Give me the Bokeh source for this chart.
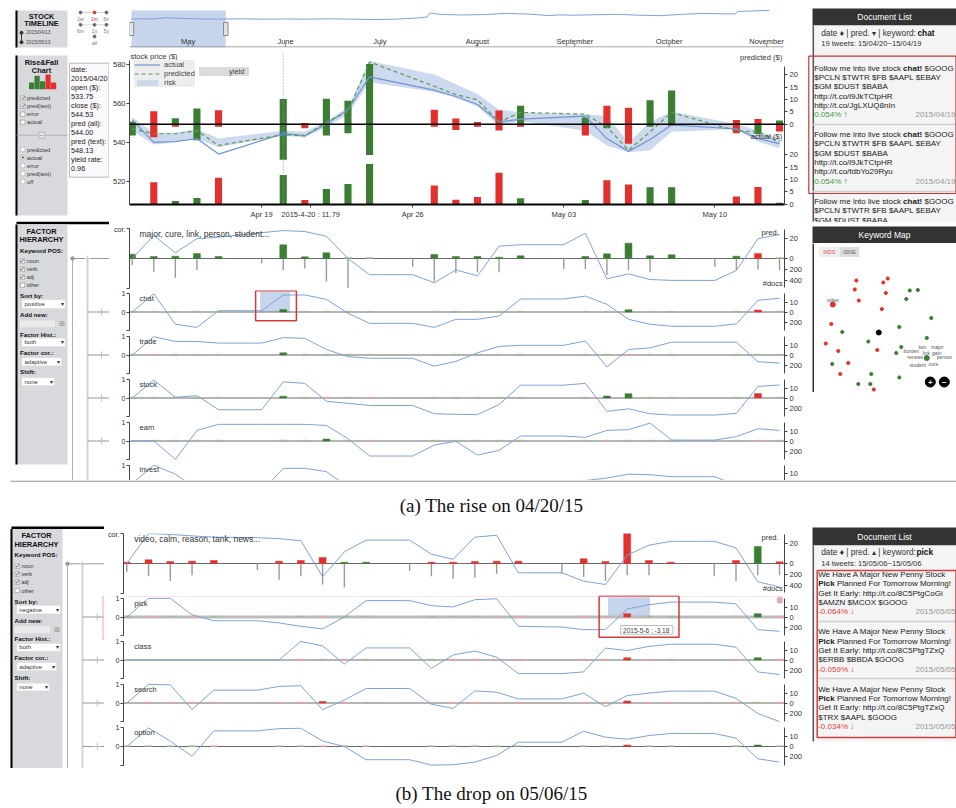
from bokeh.plotting import figure
from bokeh.models import (Range1d, LinearAxis, FixedTicker, Span, Legend, LegendItem,
                          BoxAnnotation)
from bokeh.layouts import row, column
from bokeh.core.properties import value
from bokeh.embed import file_html
from bokeh.resources import INLINE

SANS = "Liberation Sans"
SERIF = "Liberation Serif"
GREEN = "#3b7d32"
RED = "#e2312d"
LGREEN = "#96c28d"
LRED = "#f2a5a2"
BLUE = "#7ea3d6"
BAND = "#c6d5ec"
PANEL = "#d8d9dd"
DARK = "#333333"

# ======================= DATA =======================
# day index 0 = 2015-04-13 ... 30 = 2015-05-13
trade_days = [0, 1, 2, 3, 4, 7, 8, 9, 10, 11, 14, 15, 16, 17, 18, 21, 22, 23, 24, 25, 28, 29, 30]
axis_days = [6, 13, 20, 27]
axis_day_labels = ["Apr 19", "Apr 26", "May 03", "May 10"]
hover_day = 8.27
hover_text = "2015-4-20 : 11.79"

pred_all = [1.0, -5.3, 2.5, 6.4, -5.7, 10.25, -0.5, 10.4, 9.5, 24.4, -5.9, -2.4, -0.9,
            -5.6, 7.5, 2.8, -7.5, -6.7, 9.7, 13.7, -1.7, -2.1, 1.5]
pred_text = [4.5, -5.2, -1.0, 6.5, -1.0, 14.38, -1.6, 4.5, 3.6, 12.4, -1.0, -2.3, -1.0,
             -2.5, -1.0, -4.5, 1.6, -7.9, 1.0, -0.7, -3.6, 3.9, -2.9]
actual_chg = [0.0, -8.8, 1.2, 2.4, -10.7, 11.79, -1.6, 6.1, 8.1, 16.3, -7.5, -1.7, -2.8,
              -12.7, 2.3, 1.6, -9.7, -7.9, 6.8, 6.8, -3.1, -6.9, 0.5]
actual_price = [551.6, 540.0, 540.5, 542.0, 534.0, 544.53, 543.5, 549.5, 557.0, 573.8, 567.0,
                563.7, 559.6, 550.6, 552.0, 553.6, 542.0, 535.4, 541.5, 549.0, 547.0, 542.0, 539.4]
pred_price = [547.0, 544.5, 544.5, 546.0, 538.5, 544.0, 543.4, 550.5, 556.0, 581.5, 569.0,
              564.7, 562.0, 550.5, 555.5, 554.6, 548.0, 536.0, 545.5, 555.5, 546.0, 545.4, 540.3]
risk_hi = [553.0, 545.0, 545.0, 547.0, 542.0, 546.0, 545.5, 551.0, 558.0, 582.0, 575.0, 570.0,
           565.0, 557.0, 555.5, 554.6, 553.6, 540.0, 550.5, 556.0, 549.5, 546.0, 542.0]
risk_lo = [546.0, 539.0, 540.0, 542.0, 537.5, 543.5, 542.5, 548.0, 554.5, 571.0, 566.0, 563.0,
           558.5, 548.5, 551.0, 546.0, 538.4, 535.0, 536.0, 545.5, 547.0, 540.4, 537.0]
price_ticks = [520, 540, 560, 580]
pred_ticks = [0, 5, 10, 15, 20]
act_ticks = [0, 5, 10, 15, 20]

info_lines = ["date:", "2015/04/20", "open ($):", "533.75", "close ($):", "544.53",
              "pred (all):", "544.00", "pred (text):", "548.13", "yield rate:", "0.96"]

# stock timeline (days since 2015-04-13, GOOG close)
tl_day = [0, 7, 11, 14, 21, 28, 35, 43, 49, 56, 63, 70, 77, 84, 91, 94, 95, 98, 105, 112,
          119, 126, 133, 136, 140, 147, 154, 161, 168, 175, 182, 189, 192, 193, 196, 203]
tl_price = [539, 537, 565, 556, 539, 533, 540, 532, 536, 532, 540, 532, 523, 531, 560, 580, 672,
            640, 625, 635, 660, 647, 612, 628, 620, 630, 640, 622, 610, 640, 660, 650, 651, 702,
            712, 730]
month_names = ["May", "June", "July", "August", "September", "October", "November"]
month_days = [18, 49, 79, 110, 141, 171, 202]
sel_range = [0, 30]

# factor hierarchy: correlation vertices (all days except Saturdays)
cor_days = [0, 1, 2, 3, 4, 6, 7, 8, 9, 10, 11, 13, 14, 15, 16, 17, 18, 20, 21, 22, 23, 24, 25,
            27, 28, 29, 30]
docs_days = [0, 1, 2, 3, 6, 7, 8, 9, 10, 13, 14, 15, 16, 17, 20, 21, 22, 23, 24, 27, 28, 29, 30]

major_cor = [0, 0.77, 0.19, 0.66, 0.71, 0.86, 0.93, 0.9, 0.74, 0, -0.54, -0.54, -0.81, -0.38,
             -0.58, 0.41, 0.46, 0.46, 0.84, -0.68, -0.51, -0.7, -0.73, -0.73, -0.4, 0.66, 0.8]
major_pred = [4.3, 2, 2.3, 5, 2, 13.7, 1.7, 5.7, 1, 1, 4, 2, 2, 1.3, 2.7, 2, 4.7, 15.3, 2.7,
              3.7, 2.3, -5, 1]
docs_major = [120, 240, 350, 210, 90, 210, 180, 420, 530, 150, 420, 270, 250, 250, 190, 190,
              300, 210, 250, 150, 210, 200, 210]
chat_cor = [0, 1.0, -0.67, -0.84, 0.07, 0.07, 0.93, 0.93, 0.69, -0.07, -0.62, -0.62, -0.84,
            -0.4, -0.4, -0.22, 0.71, 0.71, 0.87, 0.42, -0.4, -0.67, -0.78, -0.78, -0.65, 0.64, 0.75]
chat_pred = [0.8, 0.8, 0.8, 0.8, 0.8, 2.5, 0.8, 0.8, 0.8, 0.8, 0.8, 0.8, 0.8, 0.8, 0.8, 0.8,
             0.8, 2.2, 0.8, 0.8, 0.8, -2.0, 0.8]
trade_cor = [0, 1.0, 0.74, 0.74, 0.65, 0.65, 0.95, 0.91, 0.3, -0.09, -0.18, -0.18, -0.61, -0.35,
             0.12, 0.47, 0.53, 0.53, 0.77, -0.65, 0.3, 0.39, 0.7, 0.7, 0.7, -0.37, -0.44]
trade_pred = [0.8, -0.8, 0.8, 0.8, 0.8, 2.2, 0.8, 0.8, 0.8, 0.8, 0.8, 0.8, 0.8, 0.8, 0.8, 0.8,
              0.8, -0.8, 0.8, 0.8, 0.8, 0.8, 0.8]
stock_cor = [0, 0.98, 0.04, 0.13, -0.64, -0.64, 0.88, 0.8, -0.18, -0.29, -0.41, -0.41, -0.86,
             -0.89, -0.91, -0.36, 0.7, 0.7, 0.8, -0.73, -0.59, -0.86, -0.93, -0.93, -0.84, 0.63, 0.71]
stock_pred = [0.8, 0.8, 0.8, 0.8, 0.8, 1.8, 0.8, -0.8, 0.8, -0.8, 0.8, 0.8, 0.8, 0.8, 0.8, 0.8,
              2.0, 4.3, 0.8, 0.8, 0.8, -4.5, 0.8]
earn_cor = [0, 0, -1.0, 0.58, 0.91, 0.91, 0.91, 0.91, 0.85, 0.13, -0.82, -0.82, -0.22, -0.02,
            -0.77, -0.51, 0.27, 0.27, 0.2, 0.58, 0.62, 0.98, 0.05, 0.05, 0.24, 0.67, 0.58]
earn_pred = [0.0, 0.8, 0.8, 0.8, 0.8, 1.0, 0.8, 2.0, 0.8, -0.8, 0.8, 0.8, 0.8, 0.8, 0.8, 0.8,
             -0.8, 0.8, 0.8, 0.8, 0.8, -0.8, 0.8]
invest_cor = [0, 1.0, 0.51, -0.3, -0.45, -0.45, 0.83, 0.83, 0.65, -0.2, -0.5, -0.5, -0.6, -0.3,
              -0.5, -0.4, -0.1, -0.1, 0.16, 0.3, 0.51, 0.48, 0.37, 0.37, -0.1, -0.6, -0.6]
invest_pred = [0.8, 0.8, 0.8, 0.8, 0.8, 0.8, 0.8, 0.8, 0.8, 0.8, 0.8, 0.8, 0.8, 0.8, 0.8, 0.8,
               0.8, 0.8, 0.8, 0.8, 0.8, 0.8, 0.8]

video_cor = [0, 1.0, 0.97, 0.92, 0.88, 0.86, 0.83, 0.76, -0.44, 0.39, 0.78, 0.78, 0.31, 0.14,
             0.88, 0.94, -0.31, -0.31, -0.59, -0.7, 0.28, 0.61, 0.74, 0.74, 0.52, -0.61, -0.78]
video_pred = [-1.3, -3.7, -2.0, -2.3, -3.0, -2.3, -3.0, -6.0, 1.3, 1.3, -1.3, -1.3, -2.0, -2.3,
              -2.3, -4.7, -2.0, -30.0, -3.0, -1.3, -3.0, 17.0, -1.7]
docs_video = [150, 230, 320, 215, 120, 295, 230, 380, 430, 135, 230, 275, 260, 185, 185, 245,
              320, 215, 215, 230, 320, 215, 215]
pick_cor = [0, 1.0, 1.0, 0.12, -0.2, -0.2, -0.32, -0.5, -0.64, 0, 0.88, 0.88, 0.61, 0.54, 0.93,
            0.98, -0.5, -0.54, -0.68, -0.68, 0.43, 0.66, 0.8, 0.8, 0.71, -0.68, -0.77]
pick_pred = [0.8, -0.8, 0.8, -0.8, 0.8, 0.0, 0.8, -0.8, 0.8, 0.8, 0.8, 0.8, 0.8, -0.8, -0.8,
             -0.8, -0.8, -3.18, 0.8, 0.8, -0.8, 3.3, -0.8]
class_cor = [0, 0, 0, 0, 0, 0, 0, 1.0, 0.76, -0.22, 0.65, 0.65, -0.45, 0.27, 0.48, 0.15, -0.73,
             -0.73, -0.64, 0.64, 0.51, 0.73, 0.85, 0.85, 0.69, -0.64, -0.78]
class_pred = [0, 0, 0, 0, 0, 0, -0.8, 0.8, -0.8, 0.8, 0.8, -0.8, -0.8, -0.8, -0.8, -0.8, -0.8,
              -2.3, -0.8, 0.8, -0.8, 2.3, -0.8]
search_cor = [0, 1.0, 0.98, -0.35, 0.69, 0.69, 0.89, 0.93, -0.36, 0.16, 0.78, 0.78, -0.07,
              -0.29, 0.65, 0.58, 0.22, 0.22, 0.53, -0.2, 0.4, 0.53, 0.64, 0.64, 0.25, -0.56, -1.0]
search_pred = [0, -0.8, -0.8, -0.8, -0.8, -0.8, -0.8, -1.5, -0.8, 0.8, -0.8, -0.8, -0.8, -0.8,
               -0.8, -0.8, -0.8, -2.0, -0.8, -0.8, -0.8, 0.8, -0.8]
option_cor = [0, 1.0, 0.29, -0.52, 0.84, 0.84, 0.96, 0.98, 0.29, 0, -0.71, -0.71, -1.0, -0.98,
              -0.84, -0.48, 0.23, 0.23, 0.82, 0.5, 0.39, 0.59, 0.7, 0.7, 0.45, -0.66, -0.84]
option_pred = [0.8, 0.8, 0.8, 0.8, -0.8, 0.8, 0.8, -0.8, 0.8, -0.8, 0.8, 0.8, 0.8, 0.8, 0.8,
               0.8, 0.8, -1.5, 0.8, 0.8, 0.8, 1.5, 0.8]

# document lists
docA_keyword = "chat"
docA_count = "19 tweets: 15/04/20~15/04/19"
docA_tweets = [
    ["Follow me into live stock *chat!* $GOOG", "$PCLN $TWTR $FB $AAPL $EBAY", "$GM $DUST $BABA",
     "http://t.co/l9JkTCtpHR", "http://t.co/JgLXUQ8nIn"],
    ["Follow me into live stock *chat!* $GOOG", "$PCLN $TWTR $FB $AAPL $EBAY", "$GM $DUST $BABA",
     "http://t.co/l9JkTCtpHR", "http://t.co/fdbYo29Ryu"],
    ["Follow me into live stock *chat!* $GOOG", "$PCLN $TWTR $FB $AAPL $EBAY", "$GM $DUST $BABA"],
]
docA_yield = ["0.054% ↑", "0.054% ↑"]
docA_dates = ["2015/04/19", "2015/04/19"]
docB_keyword = "pick"
docB_count = "14 tweets: 15/05/06~15/05/06"
docB_tweets = [
    ["We Have A Major New Penny Stock", "*Pick* Planned For Tomorrow Morning!",
     "Get It Early: http://t.co/8C5PtgCoGi", "$AMZN $MCOX $GOOG"],
    ["We Have A Major New Penny Stock", "*Pick* Planned For Tomorrow Morning!",
     "Get It Early: http://t.co/8C5PtgTZxQ", "$ERBB $BBDA $GOOG"],
    ["We Have A Major New Penny Stock", "*Pick* Planned For Tomorrow Morning!",
     "Get It Early: http://t.co/8C5PtgTZxQ", "$TRX $AAPL $GOOG"],
]
docB_yield = ["-0.064% ↓", "-0.059% ↓", "-0.034% ↓"]
docB_dates = ["2015/05/05", "2015/05/05", "2015/05/05"]

# keyword map (MDS coordinates)
kw_red_x = [-0.45, 0.09, 0.18, -0.48, 0.14, -0.4, -0.95, 0.06, -1.06, -0.81, -0.03, -0.61, -0.77, -0.1]
kw_red_y = [1.04, 1.0, 1.08, 0.86, 0.79, 0.64, 0.17, 0.47, -0.22, -0.37, -0.35, -0.61, -0.83, -1.14]
kw_green_x = [0.62, 0.78, 0.55, 1.05, 0.41, -0.73, -0.21, 0.96, 0.45, 0.35, -0.93, -0.15, 0.41, -0.41, -0.17]
kw_green_y = [0.84, 0.85, 0.67, 0.29, 0.11, 0.01, -0.18, -0.11, -0.29, -0.41, -0.63, -0.83, -0.9, -1.03, -1.03]
kw_focus_x = [-0.92, 0.96]
kw_focus_y = [0.56, -0.51]
kw_focus_color = [RED, GREEN]
kw_labels = ["video", "lion", "major", "burden", "link", "gain", "renews", "person", "student", "cure"]
kw_label_x = [-0.92, 0.87, 1.17, 0.65, 0.95, 1.16, 0.73, 1.31, 0.78, 1.09]
kw_label_y = [0.66, -0.28, -0.28, -0.37, -0.41, -0.41, -0.49, -0.49, -0.64, -0.63]

# ======================= HELPERS =======================
AW = {' ': 278, '!': 278, '$': 556, '%': 889, '(': 333, ')': 333, '.': 278, '/': 278, ':': 278,
      '~': 584, '-': 333, '|': 260, 'A': 667, 'B': 667, 'C': 722, 'D': 722, 'E': 667, 'F': 611,
      'G': 778, 'H': 722, 'I': 278, 'J': 500, 'K': 667, 'L': 556, 'M': 833, 'N': 722, 'O': 778,
      'P': 667, 'Q': 778, 'R': 722, 'S': 667, 'T': 611, 'U': 722, 'V': 667, 'W': 944, 'X': 667,
      'Y': 667, 'Z': 611, 'a': 556, 'b': 556, 'c': 500, 'd': 556, 'e': 556, 'f': 278, 'g': 556,
      'h': 556, 'i': 222, 'j': 222, 'k': 500, 'l': 222, 'm': 833, 'n': 556, 'o': 556, 'p': 556,
      'q': 556, 'r': 333, 's': 500, 't': 278, 'u': 556, 'v': 500, 'w': 722, 'x': 500, 'y': 500,
      'z': 500}
AWB = {'!': 333, 'c': 556, 'h': 611, 't': 333, 'i': 278, 'k': 556, 'p': 611, 's': 556}


def tw(s, size, bold=False):
    tot = 0
    for ch in s:
        w = AWB.get(ch) if bold else None
        tot += w if w else AW.get(ch, 556)
    return tot / 1000.0 * size


def base_fig(w, h, xr, yr, left=0, right=0, top=0, bottom=0):
    p = figure(width=w, height=h, x_range=xr, y_range=yr, x_axis_type=None, y_axis_type=None,
               toolbar_location=None, output_backend="svg", title=None,
               min_border_left=left, min_border_right=right, min_border_top=top,
               min_border_bottom=bottom)
    p.outline_line_color = None
    return p


def ui_fig(x0, x1, y0, y1):
    return base_fig(int(round(x1 - x0)), int(round(y1 - y0)), Range1d(x0, x1), Range1d(y1, y0))


def txt(p, x, y, s, size=7.5, color="#222222", align="left", bold=False,
        baseline="middle", font=SANS, alpha=1.0, rname="default"):
    p.text(x=[x], y=[y], text=[s], text_font=value(font), text_font_size=f"{size}px",
           text_color=color, text_align=align, text_baseline=baseline,
           text_font_style="bold" if bold else "normal", text_alpha=alpha, y_range_name=rname)


def rich(p, x, y, s, size=8.0, color="#222222"):
    cx = x
    for i, part in enumerate(s.split("*")):
        if part == "":
            continue
        bold = (i % 2 == 1)
        lead = len(part) - len(part.lstrip(" "))
        trail = len(part) - len(part.rstrip(" "))
        core = part.strip(" ")
        cx += tw(" " * lead, size, bold)
        if core:
            txt(p, cx, y, core, size=size, color=color, bold=bold)
        cx += tw(core, size, bold) + tw(" " * trail, size, bold)


def box(p, x0, x1, y0, y1, fill, line=None, lw=1.0):
    p.quad(left=[x0], right=[x1], top=[y0], bottom=[y1], fill_color=fill, line_color=line,
           line_width=lw)


def panel(p, x0, x1, y0, y1):
    box(p, x0, x1, y0, y1, PANEL)
    p.segment(x0=[x0 + 1], y0=[y0], x1=[x0 + 1], y1=[y1], line_color="black", line_width=2)


def checkbox(p, x, y, label, checked, size=5.6):
    box(p, x - 2.2, x + 2.2, y - 2.2, y + 2.2, "white", "#888888", 0.6)
    if checked:
        txt(p, x + 0.3, y - 0.3, "✓", 5.5, "#222222", "center")
    txt(p, x + 4.3, y, label, size, "#333333")


def radio(p, x, y, label, on, size=5.6):
    p.scatter([x], [y], size=5, fill_color="white", line_color="#999999", line_width=0.6)
    if on:
        p.scatter([x], [y], size=2.2, fill_color="#333333", line_color=None)
    txt(p, x + 4.3, y, label, size, "#333333")


def dropdown(p, x0, x1, y0, y1, label):
    box(p, x0, x1, y0, y1, "white", "#dddddd", 0.5)
    txt(p, x0 + 2.5, (y0 + y1) / 2, label, 6, "#333333")
    txt(p, x1 - 3.2, (y0 + y1) / 2, "▾", 6, "#333333", "center")


def style_axis(ax, size="7.5px", standoff=2):
    ax.axis_line_color = "#444444"
    ax.major_tick_line_color = "#444444"
    ax.minor_tick_line_color = None
    ax.major_tick_out = 3
    ax.major_tick_in = 0
    ax.major_label_text_font = SANS
    ax.major_label_text_font_size = size
    ax.major_label_text_color = "#333333"
    ax.major_label_standoff = standoff


XA = (-0.125, 30.23)
XB = (-0.151, 30.23)


def factor_fig(w, h, xr, ft, fb, z, ppu, ppd, cor_vals, bar_vals, label,
               top_row=False, docs_vals=None):
    H = h - ft - fb
    ranges = {"pred": Range1d(-(H - z), z)}
    if docs_vals is not None:
        ranges["docs"] = Range1d((H - z) / ppd, -z / ppd)
    p = base_fig(w, h, Range1d(*xr), Range1d(-(H - z) / ppu, z / ppu), 18, 20, ft, fb)
    p.extra_y_ranges = ranges
    p.add_layout(Span(location=0, dimension="width", line_color="#6a6a6a", line_width=1,
                      level="underlay"))
    if docs_vals is not None:
        p.segment(x0=docs_days, y0=[0] * len(docs_days), x1=docs_days, y1=docs_vals,
                  y_range_name="docs", line_color="#9a9a9a", line_width=1.4)
    xs, hs, cs = [], [], []
    for d, v in zip(trade_days, bar_vals):
        if v == 0:
            continue
        xs.append(d)
        hs.append(abs(v))
        if abs(v) >= 1.2:
            cs.append(GREEN if v > 0 else RED)
        else:
            cs.append(LGREEN if v > 0 else LRED)
    p.vbar(x=xs, bottom=0, top=hs, width=0.32, fill_color=cs, line_color=cs, line_width=0.5,
           y_range_name="pred")
    p.line(cor_days, cor_vals, line_color=BLUE, line_width=1)
    if top_row:
        la = LinearAxis(ticker=FixedTicker(ticks=[-1, 1]), bounds=(-1, 1),
                        major_label_overrides={-1: "", 1: "cor."})
    else:
        la = LinearAxis(ticker=FixedTicker(ticks=[-1, 0, 1]), bounds=(-1, 1),
                        major_label_overrides={-1: ""})
    style_axis(la, "7.2px", 1)
    p.add_layout(la, "left")
    if top_row:
        d2, d4 = round(-200 * ppd, 3), round(-400 * ppd, 3)
        ra = LinearAxis(y_range_name="pred", ticker=FixedTicker(ticks=[20, 0, d2, d4]),
                        bounds=(-(z - 1), z - 1),
                        major_label_overrides={d2: "200", d4: "400"})
    else:
        d2 = round(-200 * ppd, 3)
        ra = LinearAxis(y_range_name="pred", ticker=FixedTicker(ticks=[10, 0, d2]),
                        bounds=(-ppu, ppu), major_label_overrides={d2: "200"})
    style_axis(ra)
    p.add_layout(ra, "right")
    if top_row:
        txt(p, 0.34, 0.83, label, 8.5, "#333333")
        txt(p, xr[1] - 0.27, 0.88, "pred.", 7.5, "#333333", "right")
        txt(p, xr[1] - 0.08, -0.83, "#docs", 7.5, "#333333", "right")
    else:
        txt(p, 0.34, 0.74, label, 7.5, "#333333")
    return p


# ======================= LEFT PANEL A =======================
LA = ui_fig(0, 109, 0, 480)
panel(LA, 15, 67, 10, 47)
txt(LA, 41, 15.5, "STOCK", 7.4, "#111111", "center", True)
txt(LA, 41, 23.2, "TIMELINE", 7.4, "#111111", "center", True)
LA.segment(x0=[21], y0=[32.3], x1=[21], y1=[41.7], line_color="#333333", line_width=1)
LA.scatter([21, 21], [32.3, 41.7], size=3, color="#333333")
txt(LA, 25.5, 32.3, "2015/04/13", 4.9, "#444444")
txt(LA, 25.5, 41.7, "2015/05/13", 4.9, "#444444")
LA.segment(x0=[80, 80], y0=[12, 24.3], x1=[106, 106], y1=[12, 24.3], line_color="#999999",
           line_width=0.8, line_dash="1 1")
LA.scatter([80, 94, 106, 80, 94, 106, 94], [12, 12, 12, 24.3, 24.3, 24.3, 36], size=2.8,
           color=["#666666", RED, "#666666", "#666666", "#666666", "#666666", "#666666"])
for bx, by, bt in [(80, 18, "1w"), (94, 18, "1m"), (106, 18, "3m"), (80, 30.2, "6m"),
                   (94, 30.2, "1y"), (106, 30.2, "5y"), (94, 42, "all")]:
    txt(LA, bx, by, bt, 5, RED if bt == "1m" else "#777777", "center")

panel(LA, 15, 67, 55, 215)
txt(LA, 41, 61.5, "Rise&Fall", 7.4, "#111111", "center", True)
txt(LA, 41, 69.5, "Chart", 7.4, "#111111", "center", True)
LA.quad(left=[28.5, 34, 39.5, 45, 50.5], right=[33.7, 39.2, 44.7, 50.2, 55.7],
        top=[82, 75.3, 80.7, 74, 82], bottom=[88.7] * 5,
        fill_color=[GREEN, GREEN, GREEN, RED, RED], line_color=None)
for yy, t, c in [(97.7, "predicted", True), (105.8, "pred(text)", True), (113.7, "error", False),
                 (121.7, "actual", False)]:
    checkbox(LA, 22.3, yy, t, c)
LA.segment(x0=[16], y0=[134.7], x1=[67], y1=[134.7], line_color="#aaaaaa", line_width=0.8)
box(LA, 38.3, 44.3, 131.7, 137.7, "#e8e8e8", "#999999", 0.6)
txt(LA, 41.3, 134.6, "−", 6, "#555555", "center")
for yy, t, on in [(149, "predicted", False), (157, "actual", True), (165, "error", False),
                  (173, "pred(text)", False), (181, "off", False)]:
    radio(LA, 22.3, yy, t, on)
box(LA, 69, 108.5, 62.7, 176.7, "#fbf8fb", "#aaaaaa", 0.8)
for i, s in enumerate(info_lines):
    txt(LA, 70.5, 68.5 + 9.05 * i, s, 7.3, "#222222")

box(LA, 16, 109, 221.2, 223.8, "black")
panel(LA, 15, 67, 224, 464)
txt(LA, 41, 230.7, "FACTOR", 7.4, "#111111", "center", True)
txt(LA, 41, 239.2, "HIERARCHY", 7.4, "#111111", "center", True)
txt(LA, 19.5, 249.7, "Keyword POS:", 6.2, "#111111", bold=True)
for yy, t, c in [(260.7, "noun", True), (268.7, "verb", True), (276.7, "adj", True),
                 (284.7, "other", False)]:
    checkbox(LA, 22, yy, t, c, 5.4)
txt(LA, 19.5, 294.7, "Sort by:", 6.2, "#111111", bold=True)
dropdown(LA, 21.5, 64.7, 299.3, 308, "positive")
txt(LA, 19.5, 314.3, "Add new:", 6.2, "#111111", bold=True)
box(LA, 19, 55, 319.3, 327.3, "#e9e9ec", "#cccccc", 0.5)
txt(LA, 61, 323.3, "⊞", 7, "#888888", "center")
txt(LA, 19.5, 333.7, "Factor Hist.:", 6.2, "#111111", bold=True)
dropdown(LA, 21.5, 64.7, 337.7, 346, "both")
txt(LA, 19.5, 351.7, "Factor cor.:", 6.2, "#111111", bold=True)
dropdown(LA, 21.5, 61, 357.3, 365.3, "adaptive")
txt(LA, 19.5, 371.3, "Shift:", 6.2, "#111111", bold=True)
dropdown(LA, 21.5, 53.7, 377.3, 385, "none")
LA.segment(x0=[72, 87, 72], y0=[258, 258, 258], x1=[72, 87, 109], y1=[480, 480, 258],
           line_color=["#b0b0b0", "#d4d4d4", "#999999"], line_width=[1, 2, 1])
LA.scatter([72], [258], size=3.5, color="#999999")
LA.scatter([87], [258], marker="cross", size=6, line_color="#cccccc")
for yy in [311.5, 354.5, 397.5, 440.5]:
    LA.segment(x0=[87], y0=[yy], x1=[109], y1=[yy], line_color="#999999", line_width=1)
    LA.scatter([101], [yy], marker="cross", size=7, line_color="#c0c0c0", line_width=1)

# ======================= TIMELINE =======================
TL = base_fig(696, 50, Range1d(-0.62, 207.7), Range1d(-103.5, 771), 18, 5, 8, 3)
TL.quad(left=[sel_range[0]], right=[sel_range[1]], bottom=[-103.5], top=[726],
        fill_color=BAND, line_color=None)
TL.line(tl_day, tl_price, line_color=BLUE, line_width=1)
TL.add_layout(Span(location=-92, dimension="width", line_color="#888888", line_width=1))
TL.segment(x0=month_days, y0=[-92] * len(month_days), x1=month_days,
           y1=[-14] * len(month_days), line_color="#888888")
TL.text(x=month_days, y=[31] * len(month_days), text=month_names, text_font=value(SANS),
        text_font_size="7.5px", text_color="#333333", text_align="center",
        text_baseline="middle")
TL.rect(x=sel_range, y=[311, 311], width=4.5, height=13, width_units="screen",
        height_units="screen", fill_color="#e4e4e4", line_color="#888888")

# ======================= RISE & FALL CHART =======================
PR = (-32.5, 29.1)
AR = (-0.2, 61.6)
MAIN = base_fig(696, 171, Range1d(*XA), Range1d(508.0, 586.4), 18, 20, 2, 14)
MAIN.extra_y_ranges = {"pred": Range1d(*PR), "act": Range1d(*AR)}
r_band = MAIN.varea(x=trade_days, y1=risk_lo, y2=risk_hi, fill_color=BAND, fill_alpha=0.9)
up_c = [GREEN if v >= 0 else RED for v in pred_all]
dn_c = [GREEN if v >= 0 else RED for v in pred_text]
ac_c = [GREEN if v >= 0 else RED for v in actual_chg]
MAIN.vbar(x=trade_days, bottom=0, top=[abs(v) for v in pred_all], width=0.33,
          fill_color=up_c, line_color=None, y_range_name="pred")
MAIN.vbar(x=trade_days, top=0, bottom=[-abs(v) for v in pred_text], width=0.33,
          fill_color=dn_c, line_color=None, y_range_name="pred")
MAIN.vbar(x=trade_days, bottom=0, top=[abs(v) for v in actual_chg], width=0.33,
          fill_color=ac_c, line_color=None, y_range_name="act")
MAIN.add_layout(Span(location=0, dimension="width", line_color="black", line_width=1.6,
                     y_range_name="pred"))
MAIN.add_layout(Span(location=7, dimension="height", line_color="#999999", line_width=1,
                     line_dash="1 2"))
r_act = MAIN.line(trade_days, actual_price, line_color="#6f95cf", line_width=1.2)
r_pred = MAIN.line(trade_days, pred_price, line_color="#5c9a52", line_width=1.2,
                   line_dash="4 3")
MAIN.scatter([trade_days[5]], [actual_price[5]], size=4, color="#4f7cc2")
r_yield = MAIN.line(x=[], y=[], line_color="#9b3a3a", line_width=1.2)
r_yield.visible = False

ax_l = LinearAxis(ticker=FixedTicker(ticks=price_ticks), bounds=(508.0, 582.3))
style_axis(ax_l, "7.5px", 1)
MAIN.add_layout(ax_l, "left")
x_over = dict(zip(axis_days, axis_day_labels))
x_over[hover_day] = hover_text
ax_b = LinearAxis(ticker=FixedTicker(ticks=axis_days + [hover_day]),
                  major_label_overrides=x_over)
style_axis(ax_b)
ax_b.axis_line_color = "black"
ax_b.axis_line_width = 2
MAIN.add_layout(ax_b, "below")


def act_to_pred(a):
    f = (a - AR[0]) / (AR[1] - AR[0])
    return round(PR[0] + f * (PR[1] - PR[0]), 3)


r_ticks = list(pred_ticks) + [act_to_pred(a) for a in act_ticks]
r_over = {t: str(t) for t in pred_ticks}
for a in act_ticks:
    r_over[act_to_pred(a)] = str(a)
ax_r = LinearAxis(y_range_name="pred", ticker=FixedTicker(ticks=r_ticks),
                  major_label_overrides=r_over, bounds=(act_to_pred(0), 23.5))
style_axis(ax_r)
MAIN.add_layout(ax_r, "right")

txt(MAIN, -0.08, 584.3, "stock price ($)", 7.5, "#333333")
txt(MAIN, 30.12, 27.2, "predicted ($)", 7.5, "#333333", "right", rname="pred")
txt(MAIN, 30.12, 27.3, "actual ($)", 7.5, "#333333", "right", rname="act")

leg1 = Legend(items=[LegendItem(label="actual", renderers=[r_act]),
                     LegendItem(label="predicted", renderers=[r_pred]),
                     LegendItem(label="risk", renderers=[r_band])],
              location=(5, 117), glyph_width=26, glyph_height=7, label_height=7,
              label_text_font=SANS, label_text_font_size="7.5px", label_text_line_height=0.9,
              spacing=0, padding=2, margin=0, label_standoff=4,
              background_fill_color="#ececec", background_fill_alpha=0.95,
              border_line_color=None)
leg2 = Legend(items=[LegendItem(label="yield", renderers=[r_yield])],
              location=(70, 128), glyph_width=26, glyph_height=7, label_height=7,
              label_text_font=SANS, label_text_font_size="7.5px", label_text_line_height=0.9,
              spacing=0, padding=2, margin=0, label_standoff=4,
              background_fill_color="#d9d9d9", background_fill_alpha=0.95,
              border_line_color=None)
MAIN.add_layout(leg1)
MAIN.add_layout(leg2)

SA = ui_fig(109, 805, 221, 224)
box(SA, 109, 803, 221.2, 223.8, "black")

# ======================= FACTOR ROWS A =======================
FA_top = factor_fig(696, 66, XA, 4, 2, 30, 30, 0.055, major_cor, major_pred,
                    "major, cure, link, person, student...", True, docs_major)
FA_chat = factor_fig(696, 43, XA, 0, 0, 21.5, 18.3, 0.05, chat_cor, chat_pred, "chat")
FA_trade = factor_fig(696, 43, XA, 0, 0, 21.5, 18.3, 0.05, trade_cor, trade_pred, "trade")
FA_stock = factor_fig(696, 43, XA, 0, 0, 21.5, 18.3, 0.05, stock_cor, stock_pred, "stock")
FA_earn = factor_fig(696, 43, XA, 0, 0, 21.5, 18.3, 0.05, earn_cor, earn_pred, "earn")
FA_invest = factor_fig(696, 18, XA, 0, 0, 21, 18.3, 0.05, invest_cor, invest_pred, "invest")
FA_chat.quad(left=[5.93], right=[7.32], bottom=[0], top=[1.1], fill_color=BAND,
             line_color=None, level="underlay")
FA_chat.quad(left=[5.72], right=[7.61], bottom=[-0.48], top=[1.16], fill_color=None,
             line_color="#d9383a", line_width=1.5)

# ======================= RIGHT COLUMN A =======================
RA = ui_fig(805, 956, 0, 243)
box(RA, 812, 956, 8, 25, DARK)
txt(RA, 884, 16.8, "Document List", 8.5, "white", "center")
box(RA, 812, 956, 25, 221, "#f4f4f4")
RA.segment(x0=[812.8], y0=[25], x1=[812.8], y1=[221], line_color="#555555", line_width=1.5)
txt(RA, 820.7, 32, "date ♦ | pred. ▾ | keyword:", 8.3, "#333333")
txt(RA, 917, 32, docA_keyword, 8.3, "#111111", bold=True)
txt(RA, 820.7, 43.3, docA_count, 7.6, "#333333")
for ti, (y0, lines) in enumerate(zip([67.7, 134.0, 201.0], docA_tweets)):
    for li, ln in enumerate(lines):
        rich(RA, 813.7, y0 + 9.3 * li, ln, 8.0, "#222222")
    if ti < len(docA_yield):
        txt(RA, 813.7, y0 + 46.6, docA_yield[ti], 8.0, "#3f9a3f")
        txt(RA, 955, y0 + 46.6, docA_dates[ti], 8.0, "#999999", "right")
RA.segment(x0=[812, 812], y0=[124, 191], x1=[956, 956], y1=[124, 191], line_color="#d0d0d0",
           line_width=1.5)
box(RA, 808.3, 955.5, 55.7, 193, None, "#cc3333", 1.2)
box(RA, 805, 956, 221.5, 226, "white")
box(RA, 812, 956, 226, 243, DARK)
txt(RA, 884, 234.6, "Keyword Map", 8.5, "white", "center")

KW = base_fig(151, 149, Range1d(-1.466, 1.554), Range1d(-1.2, 1.78), 0, 0, 0, 0)
KW.quad(left=[-1.326], right=[-1.296], bottom=[-1.2], top=[1.78], fill_color=DARK,
        line_color=None)
KW.quad(left=[-1.2, -0.78], right=[-0.78, -0.39], bottom=[1.51, 1.51], top=[1.71, 1.71],
        fill_color=["#eeeeee", "#dddddd"], line_color=None)
txt(KW, -0.99, 1.61, "MDS", 5.5, "#e05555", "center")
txt(KW, -0.585, 1.61, "tSNE", 5.5, "#666666", "center")
KW.scatter(kw_red_x, kw_red_y, size=3.2, color=RED)
KW.scatter(kw_green_x, kw_green_y, size=3.2, color=GREEN)
KW.scatter(kw_focus_x, kw_focus_y, size=5, color=kw_focus_color)
KW.scatter([0], [0], size=5, color="black")
KW.text(x=kw_label_x, y=kw_label_y, text=kw_labels, text_font=value(SANS),
        text_font_size="5px", text_color="#555555", text_align="center",
        text_baseline="middle")
KW.scatter([1.03, 1.31], [-0.99, -0.99], size=10, color="black")
txt(KW, 1.03, -0.99, "+", 8, "white", "center", True)
txt(KW, 1.31, -0.99, "−", 8, "white", "center", True)
RF = ui_fig(805, 956, 392, 480)

# ======================= CAPTION A =======================
CA = ui_fig(0, 956, 480, 520)
CA.segment(x0=[10], y0=[480.6], x1=[956], y1=[480.6], line_color="#777777", line_width=1)
txt(CA, 491, 505, "(a) The rise on 04/20/15", 19, "#111111", "center", font=SERIF)

# ======================= LEFT PANEL B =======================
LB = ui_fig(0, 104, 520, 768)
box(LB, 11, 104, 526, 528.5, "black")
panel(LB, 10, 62, 528.5, 768)
txt(LB, 36, 535, "FACTOR", 7.4, "#111111", "center", True)
txt(LB, 36, 544, "HIERARCHY", 7.4, "#111111", "center", True)
txt(LB, 14, 554.3, "Keyword POS:", 6.2, "#111111", bold=True)
for yy, t, c in [(565.7, "noun", True), (573.7, "verb", True), (581.7, "adj", True),
                 (590, "other", False)]:
    checkbox(LB, 16.7, yy, t, c, 5.4)
txt(LB, 14, 600.7, "Sort by:", 6.2, "#111111", bold=True)
dropdown(LB, 16.3, 59.7, 605, 613.3, "negative")
txt(LB, 14, 620.3, "Add new:", 6.2, "#111111", bold=True)
box(LB, 13.3, 50, 625, 633.3, "#e9e9ec", "#cccccc", 0.5)
txt(LB, 56, 629, "⊞", 7, "#888888", "center")
txt(LB, 14, 638.3, "Factor Hist.:", 6.2, "#111111", bold=True)
dropdown(LB, 16.3, 59.7, 643, 650.7, "both")
txt(LB, 14, 657, "Factor cor.:", 6.2, "#111111", bold=True)
dropdown(LB, 16.3, 56, 662, 670, "adaptive")
txt(LB, 14, 677, "Shift:", 6.2, "#111111", bold=True)
dropdown(LB, 16.3, 48.7, 682.7, 690.3, "none")
LB.segment(x0=[67, 82, 67], y0=[563.3, 563.3, 563.3], x1=[67, 82, 104], y1=[768, 768, 563.3],
           line_color=["#b0b0b0", "#d4d4d4", "#999999"], line_width=[1, 2, 1])
LB.scatter([67], [563.3], size=3.5, color="#999999")
LB.scatter([82], [563.3], marker="cross", size=6, line_color="#cccccc")
for yy in [616.5, 659.5, 702.5, 746]:
    LB.segment(x0=[82], y0=[yy], x1=[104], y1=[yy], line_color="#999999", line_width=1)
    LB.scatter([96.7], [yy], marker="cross", size=7, line_color="#c0c0c0", line_width=1)
LB.quad(left=[102.5], right=[104], top=[596], bottom=[639], fill_color=None,
        line_color="#f3a7a7", line_width=1)

SB = ui_fig(104, 805, 520, 529)
box(SB, 104, 803, 526, 528.5, "black")

# ======================= FACTOR ROWS B =======================
FB_top = factor_fig(701, 66, XB, 4, 2, 30, 30, 0.055, video_cor, video_pred,
                    "video, calm, reason, tank, news...", True, docs_video)
FB_pick = factor_fig(701, 43, XB, 0, 0, 21.5, 18.6, 0.05, pick_cor, pick_pred, "pick")
FB_class = factor_fig(701, 43, XB, 0, 0, 21.5, 18.6, 0.05, class_cor, class_pred, "class")
FB_search = factor_fig(701, 43, XB, 0, 0, 21.5, 18.6, 0.05, search_cor, search_pred, "search")
FB_option = factor_fig(701, 44, XB, 0, 0, 22, 18.6, 0.05, option_cor, option_pred, "option")
FB_pick.add_layout(Span(location=0, dimension="width", line_color="#bbbbbb", line_width=3,
                        level="underlay"))
FB_pick.quad(left=[22.12], right=[24.05], bottom=[0], top=[1.06], fill_color=BAND,
             line_color=None, level="underlay")
FB_pick.quad(left=[21.71], right=[25.38], bottom=[-1.09], top=[1.13], fill_color=None,
             line_color="#d9383a", line_width=1.5)
FB_pick.add_layout(BoxAnnotation(left=-1.04, right=30.9, top=1.1, bottom=-1.15, fill_alpha=0,
                                 line_color="#f3a7a7", line_width=1))
FB_pick.quad(left=[22.7], right=[25.1], bottom=[-0.92], top=[-0.46], fill_color="white",
             line_color="#aaaaaa", line_width=0.8)
txt(FB_pick, 22.81, -0.7, "2015-5-6 : -3.18", 6.5, "#444444")
txt(FB_pick, 30.02, 0.92, "⊗", 9, "#e0507a", "center")

# ======================= RIGHT COLUMN B =======================
RB = ui_fig(805, 956, 520, 768)
box(RB, 812, 956, 527, 545, DARK)
txt(RB, 884, 536, "Document List", 8.5, "white", "center")
box(RB, 812, 956, 545, 741, "#f4f4f4")
RB.segment(x0=[812.8], y0=[545], x1=[812.8], y1=[741], line_color="#555555", line_width=1.5)
txt(RB, 820.7, 551, "date ♦ | pred. ▴ | keyword:", 8.3, "#333333")
txt(RB, 916, 551, docB_keyword, 8.3, "#111111", bold=True)
txt(RB, 820.7, 562.7, docB_count, 7.6, "#333333")
for ti, (y0, lines) in enumerate(zip([574.0, 631.3, 688.7], docB_tweets)):
    for li, ln in enumerate(lines):
        rich(RB, 817.7, y0 + 9.3 * li, ln, 8.0, "#222222")
    txt(RB, 817.7, y0 + 37.3, docB_yield[ti], 8.0, "#e04040")
    txt(RB, 955, y0 + 37.3, docB_dates[ti], 8.0, "#999999", "right")
RB.segment(x0=[816.7, 816.7], y0=[621, 678], x1=[956, 956], y1=[621, 678],
           line_color="#d0d0d0", line_width=1.5)
box(RB, 816.7, 955.5, 570, 737, None, "#d43f3f", 1.5)

# ======================= CAPTION B =======================
CB = ui_fig(0, 956, 768, 806)
txt(CB, 491, 793, "(b) The drop on 05/06/15", 19, "#111111", "center", font=SERIF)

# ======================= LAYOUT =======================
midA = column(TL, MAIN, SA, FA_top, FA_chat, FA_trade, FA_stock, FA_earn, FA_invest, spacing=0)
rightA = column(RA, KW, RF, spacing=0)
blockA = row(LA, midA, rightA, spacing=0)
midB = column(SB, FB_top, FB_pick, FB_class, FB_search, FB_option, spacing=0)
blockB = row(LB, midB, RB, spacing=0)
page = column(blockA, CA, blockB, CB, spacing=0)

open("out.html", "w").write(file_html(page, INLINE, "Stock factor hierarchy"))
